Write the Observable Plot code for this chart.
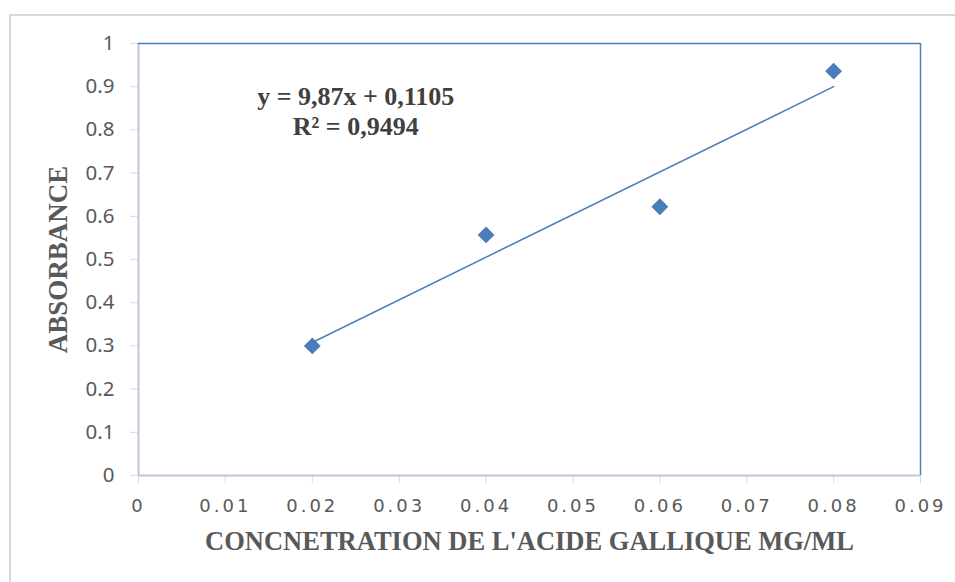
<!DOCTYPE html>
<html><head><meta charset="utf-8">
<script src="https://cdn.jsdelivr.net/npm/d3@7"></script>
<script src="https://cdn.jsdelivr.net/npm/@observablehq/plot@0.6"></script>
<style>
html,body{margin:0;padding:0;background:#fff;overflow:hidden;width:955px;height:582px;}
#frame{position:absolute;left:9px;top:14px;width:1000px;height:700px;border-left:2px solid #d9d9d9;border-top:2px solid #d9d9d9;}
#chart{position:absolute;left:0;top:0;}
</style>
</head><body><div id="frame"></div><div id="chart"></div>
<script>
// Data
const concentration = [0.02, 0.04, 0.06, 0.08];
const absorbance = [0.300, 0.557, 0.622, 0.936];
const slope = 9.87, intercept = 0.1105;
const equationLines = ["y = 9,87x + 0,1105", "R² = 0,9494"];
const xTicks = [0, 0.01, 0.02, 0.03, 0.04, 0.05, 0.06, 0.07, 0.08, 0.09];
const yTicks = [0, 0.1, 0.2, 0.3, 0.4, 0.5, 0.6, 0.7, 0.8, 0.9, 1];
const xTitle = "CONCNETRATION DE L'ACIDE GALLIQUE MG/ML";
const yTitle = "ABSORBANCE";

const points = concentration.map((c, i) => ({x: c, y: absorbance[i]}));
const xs = [d3.min(concentration), d3.max(concentration)];
const trend = xs.map(x => ({x, y: slope * x + intercept}));

const blue = "#4a7ebb";
const serif = "'Liberation Serif', 'Times New Roman', serif";
const fmt = d => String(+d.toFixed(2));

const chart = Plot.plot({
  width: 955, height: 582,
  marginLeft: 138, marginRight: 35, marginTop: 43, marginBottom: 107,
  style: {background: "transparent", overflow: "visible"},
  x: {domain: [0, 0.09]},
  y: {domain: [0, 1]},
  marks: [
    Plot.axisY({ticks: yTicks, tickSize: 8, tickPadding: 16, tickFormat: fmt,
      stroke: "#d9d9d9", fill: "#595959", label: null}),
    Plot.axisX({ticks: xTicks, tickSize: 8, tickPadding: 16, tickFormat: fmt,
      stroke: "#d9d9d9", fill: "#595959", label: null}),
    Plot.ruleX([0], {stroke: "#bfc9d9", strokeWidth: 2}),
    Plot.ruleY([0], {stroke: "#bfc9d9", strokeWidth: 2}),
    Plot.ruleY([1], {stroke: blue, strokeWidth: 1.5}),
    Plot.ruleX([0.09], {stroke: blue, strokeWidth: 1.5}),
    Plot.line(trend, {x: "x", y: "y", stroke: blue, strokeWidth: 1.5}),
    Plot.dot(points, {x: "x", y: "y", symbol: "diamond2", r: 7.6, fill: blue, stroke: "none"}),
    Plot.text([equationLines.join("\n")], {x: 0.025, y: 0.845, fontSize: 26, fontWeight: "bold",
      fontFamily: serif, fill: "#404040", lineHeight: 1.15}),
    Plot.text([xTitle], {frameAnchor: "bottom", dy: 74, fontSize: 26.5, fontWeight: "bold",
      fontFamily: serif, fill: "#595959"}),
    Plot.text([yTitle], {frameAnchor: "left", textAnchor: "middle", dx: -80, rotate: -90, fontSize: 27, fontWeight: "bold",
      fontFamily: serif, fill: "#595959"})
  ]
});
const svg = d3.select(chart);
svg.selectAll('g[aria-label="y-axis tick label"]')
  .attr("font-size", 20.5).attr("font-family", "'Noto Sans', sans-serif");
svg.selectAll('g[aria-label="x-axis tick label"]')
  .attr("font-size", 18).attr("font-family", "'DejaVu Sans', sans-serif").attr("letter-spacing", 3);
document.getElementById("chart").appendChild(chart);
</script>
</body></html>
